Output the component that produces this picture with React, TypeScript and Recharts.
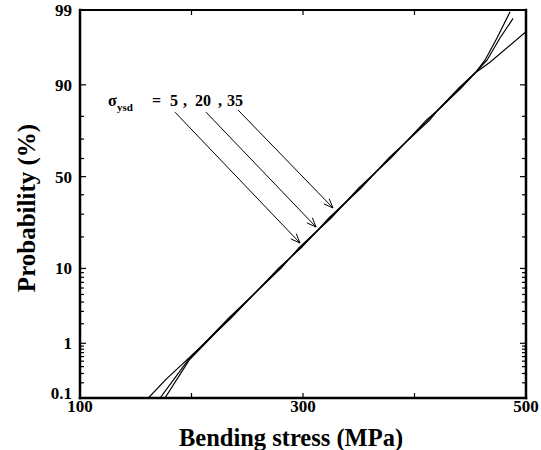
import React from 'react';
import { LineChart, Line, XAxis, YAxis, ReferenceLine, ReferenceDot } from 'recharts';

const FONT = '"Liberation Serif", "Times New Roman", serif';

// bending stress (MPa) and cumulative failure probability (%)
const stressSd35 = [161.3, 177.8, 194.2, 235.5, 278.4, 298.3, 313.5, 323.2, 352.1, 377.0, 413.6, 421.1, 439.8, 454.3, 463.2, 474.0, 485.7];
const probSd35 = [0.1, 0.24, 0.49, 2.42, 10.1, 16.0, 22.8, 28.2, 43.7, 60.3, 78.5, 82.4, 89.2, 92.6, 94.8, 97.35, 98.93];

const stressSd20 = [171.8, 196.9, 233.5, 280.4, 296.3, 313.5, 325.2, 350.1, 379.0, 410.6, 421.1, 441.8, 454.3, 465.0, 476.7, 488.4];
const probSd20 = [0.1, 0.52, 2.42, 10.1, 16.0, 22.8, 28.2, 43.7, 60.3, 78.5, 82.4, 89.2, 92.6, 94.8, 97.35, 98.64];

const stressSd5 = [176.2, 197.9, 234.5, 279.4, 297.3, 313.5, 324.2, 351.1, 378.0, 412.1, 421.1, 440.8, 454.3, 467.7, 500.0];
const probSd5 = [0.1, 0.52, 2.42, 10.1, 16.0, 22.8, 28.2, 43.7, 60.3, 78.5, 82.4, 89.2, 92.6, 94.5, 97.85];

const stressTicks = [100, 200, 300, 400, 500];
const stressLabels = [100, 300, 500];
const probTicks = [0.1, 0.2, 0.3, 0.4, 0.5, 0.6, 0.7, 0.8, 0.9, 1, 2, 3, 4, 5, 6, 7, 8, 9, 10, 20, 30, 40, 50, 60, 70, 80, 90, 99];
const probLabels = [0.1, 1, 10, 50, 90, 99];

// annotation arrows (label -> curve)
const arrowFromStress = [185.2, 213.0, 241.7];
const arrowFromProb = [81.6, 81.6, 82.4];
const arrowToStress = [297.3, 311.7, 326.9];
const arrowToProb = [17.7, 24.1, 33.1];
const noteStress = 125;
const noteProb = 83.8;

// inverse normal CDF (normal probability paper scale)
const A = [-39.69683028665376, 220.9460984245205, -275.9285104469687, 138.357751867269, -30.66479806614716, 2.506628277459239];
const B = [-54.47609879822406, 161.5858368580409, -155.6989798598866, 66.80131188771972, -13.28068155288572];
const C = [-0.007784894002430293, -0.3223964580411365, -2.400758277161838, -2.549671348494066, 4.374664141464968, 2.938163982698783];
const D = [0.007784695709041462, 0.3224671290700398, 2.445134137142996, 3.754408661907416];

function probit(pct: number) {
  const p = pct / 100;
  const lo = 0.02425;
  if (p < lo || p > 1 - lo) {
    const q = Math.sqrt(-2 * Math.log(p < lo ? p : 1 - p));
    const v = (((((C[0] * q + C[1]) * q + C[2]) * q + C[3]) * q + C[4]) * q + C[5]) /
      ((((D[0] * q + D[1]) * q + D[2]) * q + D[3]) * q + 1);
    return p < lo ? v : -v;
  }
  const q = p - 0.5;
  const r = q * q;
  return (((((A[0] * r + A[1]) * r + A[2]) * r + A[3]) * r + A[4]) * r + A[5]) * q /
    (((((B[0] * r + B[1]) * r + B[2]) * r + B[3]) * r + B[4]) * r + 1);
}

const toSeries = (stress: number[], prob: number[]) => stress.map((s, i) => ({ stress: s, z: probit(prob[i]) }));

const dataSd35 = toSeries(stressSd35, probSd35);
const dataSd20 = toSeries(stressSd20, probSd20);
const dataSd5 = toSeries(stressSd5, probSd5);

const zTicks = probTicks.map(probit);
const zDomain = [probit(0.1), probit(99)];

const findProb = (z: number) => probTicks.find(t => Math.abs(probit(t) - z) < 1e-6);

const labelStyle = { fontFamily: FONT, fontWeight: 'bold' as const, fontSize: 17, fill: '#000' };

const LeftTick = (props: any) => {
  const { x, y, payload } = props;
  const p = findProb(payload.value);
  const major = p !== undefined && probLabels.includes(p);
  // the lowest label sits a little above its tick, clear of the x labels
  const shift = p === 0.1 ? -5 : 0;
  return (
    <g>
      <line x1={x} x2={x + (major ? 6 : 4)} y1={y} y2={y} stroke="#000" strokeWidth={1.2} />
      {major && (
        <text x={x - 8} y={y + shift} dy="0.35em" textAnchor="end" {...labelStyle}>{p}</text>
      )}
    </g>
  );
};

const RightTick = (props: any) => {
  const { x, y, payload } = props;
  const p = findProb(payload.value);
  const major = p !== undefined && probLabels.includes(p);
  return <line x1={x} x2={x - (major ? 6 : 4)} y1={y} y2={y} stroke="#000" strokeWidth={1.2} />;
};

const BottomTick = (props: any) => {
  const { x, y, payload } = props;
  const show = stressLabels.includes(payload.value);
  return (
    <g>
      <line x1={x} x2={x} y1={y} y2={y - 5} stroke="#000" strokeWidth={1.2} />
      {show && (
        <text x={x} y={y + 14} textAnchor="middle" {...labelStyle}>{payload.value}</text>
      )}
    </g>
  );
};

const TopTick = (props: any) => {
  const { x, y } = props;
  return <line x1={x} x2={x} y1={y} y2={y + 5} stroke="#000" strokeWidth={1.2} />;
};

const Arrow = (props: any) => {
  const { x1, y1, x2, y2 } = props;
  const ang = Math.atan2(y2 - y1, x2 - x1);
  const len = 10;
  const spread = 0.38;
  const ax = x2 - len * Math.cos(ang - spread);
  const ay = y2 - len * Math.sin(ang - spread);
  const bx = x2 - len * Math.cos(ang + spread);
  const by = y2 - len * Math.sin(ang + spread);
  return (
    <g>
      <line x1={x1} y1={y1} x2={x2} y2={y2} stroke="#000" strokeWidth={1} />
      <polyline points={`${ax},${ay} ${x2},${y2} ${bx},${by}`} fill="none" stroke="#000" strokeWidth={1} />
    </g>
  );
};

const NoteLabel = (props: any) => {
  const vb = props.viewBox || {};
  const x = vb.x ?? 0;
  const y = vb.y ?? 0;
  return (
    <text x={x} y={y} fontFamily={FONT} fontWeight="bold" fontSize={16} fill="#000">
      <tspan x={x}>σ</tspan>
      <tspan x={x + 9} dy={5} fontSize={11}>ysd</tspan>
      <tspan x={x + 44} dy={-5}>=</tspan>
      <tspan x={x + 62}>5</tspan>
      <tspan x={x + 75}>,</tspan>
      <tspan x={x + 87}>20</tspan>
      <tspan x={x + 110}>,</tspan>
      <tspan x={x + 119}>35</tspan>
    </text>
  );
};

const YTitle = (props: any) => {
  const vb = props.viewBox || {};
  const x = (vb.x ?? 0) + 26;
  const y = (vb.y ?? 0) + (vb.height ?? 0) / 2 + 4;
  return (
    <text x={x} y={y} transform={`rotate(-90, ${x}, ${y})`} textAnchor="middle" dominantBaseline="central"
      fontFamily={FONT} fontWeight="bold" fontSize={25} fill="#000">
      Probability (%)
    </text>
  );
};

const XTitle = (props: any) => {
  const vb = props.viewBox || {};
  const x = (vb.x ?? 0) + (vb.width ?? 0) / 2 - 12;
  const y = (vb.y ?? 0) + 48;
  return (
    <text x={x} y={y} textAnchor="middle" fontFamily={FONT} fontWeight="bold" fontSize={24.5} fill="#000">
      Bending stress (MPa)
    </text>
  );
};

const frame = { stroke: '#000', strokeWidth: 2.5, strokeLinecap: 'square' as const };

export default function App() {
  return (
    <div style={{ position: 'absolute', left: 0, top: 0, background: '#fff' }}>
      <LineChart width={541} height={450} margin={{ top: 0, right: 0, bottom: 0, left: 0 }}>
        <XAxis xAxisId="bottom" orientation="bottom" dataKey="stress" type="number" domain={[100, 500]}
          ticks={stressTicks} interval={0} height={52} tickSize={0} tickMargin={0} tickLine={false}
          axisLine={frame} tick={BottomTick} allowDataOverflow
          label={{ content: (p: any) => <XTitle {...p} /> }} />
        <XAxis xAxisId="top" orientation="top" dataKey="stress" type="number" domain={[100, 500]}
          ticks={stressTicks} interval={0} height={10} tickSize={0} tickMargin={0} tickLine={false}
          axisLine={{ ...frame, strokeWidth: 2 }} tick={TopTick} allowDataOverflow />
        <YAxis yAxisId="left" orientation="left" type="number" domain={zDomain} ticks={zTicks}
          interval={0} width={80} tickSize={0} tickMargin={0} tickLine={false} axisLine={frame}
          tick={LeftTick} allowDataOverflow
          label={{ content: (p: any) => <YTitle {...p} /> }} />
        <YAxis yAxisId="right" orientation="right" type="number" domain={zDomain} ticks={zTicks}
          interval={0} width={15} tickSize={0} tickMargin={0} tickLine={false} axisLine={frame}
          tick={RightTick} allowDataOverflow />

        <Line xAxisId="bottom" yAxisId="left" data={dataSd35} dataKey="z" type="linear" stroke="#000"
          strokeWidth={1.2} dot={false} isAnimationActive={false} />
        <Line xAxisId="bottom" yAxisId="left" data={dataSd20} dataKey="z" type="linear" stroke="#000"
          strokeWidth={1.2} dot={false} isAnimationActive={false} />
        <Line xAxisId="bottom" yAxisId="left" data={dataSd5} dataKey="z" type="linear" stroke="#000"
          strokeWidth={1.2} dot={false} isAnimationActive={false} />

        {arrowFromStress.map((s, i) => (
          <ReferenceLine key={i} xAxisId="bottom" yAxisId="left"
            segment={[{ x: s, y: probit(arrowFromProb[i]) }, { x: arrowToStress[i], y: probit(arrowToProb[i]) }]}
            shape={(p: any) => <Arrow {...p} />} ifOverflow="visible" />
        ))}
        <ReferenceDot xAxisId="bottom" yAxisId="left" x={noteStress} y={probit(noteProb)} r={0}
          fill="none" stroke="none" ifOverflow="visible"
          label={{ content: (p: any) => <NoteLabel {...p} /> }} />
      </LineChart>
    </div>
  );
}
